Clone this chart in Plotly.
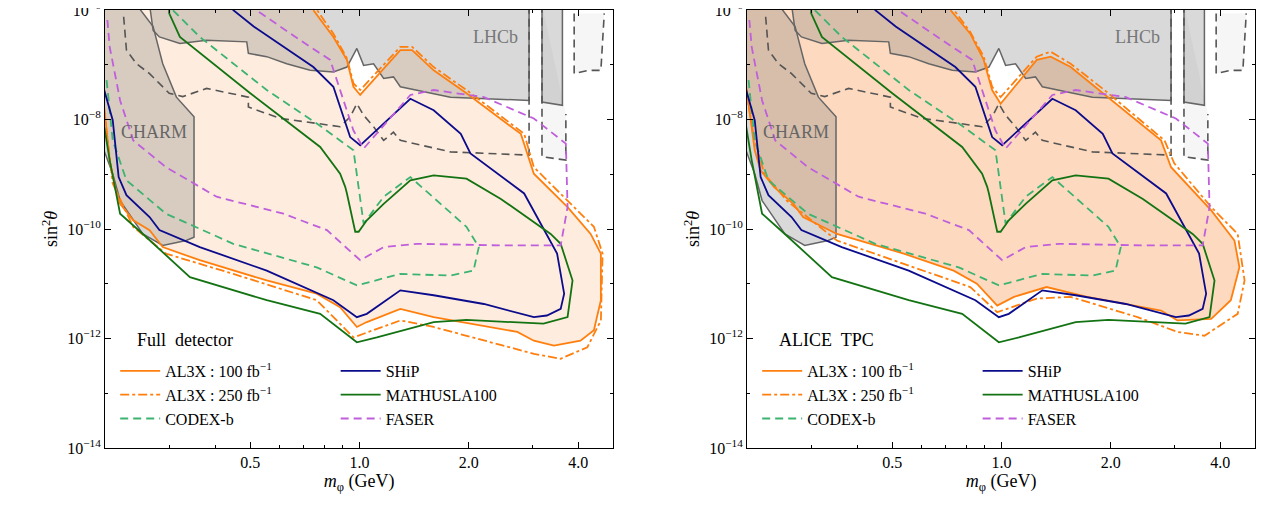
import math
import plotly.graph_objects as go

# curves: mass in GeV, log10(sin^2 theta)
al3x100_full_m = [0.19, 0.198, 0.205, 0.212, 0.219, 0.238, 0.264, 0.287, 0.363, 0.555, 0.762, 0.884, 0.983, 1.047, 1.295, 1.60, 2.72, 3.02, 3.43, 4.06, 4.42, 4.62, 4.62, 4.33, 3.74, 3.02, 2.78, 1.97, 1.60, 1.395, 1.295, 1.004, 0.962, 0.923, 0.847, 0.746, 0.716]
al3x100_full_e = [-5.8, -7.77, -8.74, -9.23, -9.54, -9.84, -10.02, -10.33, -10.57, -10.94, -11.18, -11.43, -11.79, -11.70, -11.46, -11.61, -11.88, -12.04, -12.13, -12.04, -11.85, -11.30, -10.45, -10.09, -9.60, -8.99, -8.26, -7.52, -7.10, -6.73, -6.73, -7.55, -7.40, -6.91, -6.49, -6.0, -5.8]

al3x250_full_m = [0.198, 0.209, 0.238, 0.293, 0.449, 0.762, 0.962, 1.295, 1.60, 3.02, 3.58, 4.24, 4.62, 4.67, 4.42, 3.74, 3.02, 2.84, 1.97, 1.60, 1.395, 1.295, 1.004, 0.962, 0.923, 0.847, 0.762, 0.731]
al3x250_full_e = [-7.83, -9.17, -9.96, -10.45, -10.82, -11.30, -11.98, -11.67, -11.79, -12.28, -12.37, -12.16, -11.67, -10.45, -9.96, -9.48, -8.87, -8.26, -7.46, -7.04, -6.67, -6.67, -7.46, -7.34, -6.88, -6.43, -6.0, -5.82]

al3x100_tpc_m = [0.19, 0.198, 0.202, 0.209, 0.217, 0.236, 0.267, 0.284, 0.352, 0.538, 0.738, 0.855, 0.973, 1.082, 1.33, 1.72, 2.75, 3.05, 3.78, 4.28, 4.52, 4.38, 3.78, 2.93, 2.75, 1.92, 1.55, 1.366, 1.25, 0.994, 0.942, 0.893, 0.82, 0.724, 0.69]
al3x100_tpc_e = [-5.8, -7.40, -7.83, -8.56, -8.93, -9.23, -9.54, -9.78, -10.09, -10.45, -10.76, -11.0, -11.40, -11.24, -11.06, -11.24, -11.49, -11.67, -11.64, -11.30, -10.70, -10.21, -9.66, -8.87, -8.38, -7.55, -7.04, -6.85, -6.91, -7.71, -7.46, -6.91, -6.43, -6.0, -5.82]

al3x250_tpc_m = [0.198, 0.207, 0.222, 0.256, 0.352, 0.538, 0.82, 0.973, 1.25, 1.55, 2.37, 3.05, 3.62, 4.47, 4.67, 4.47, 3.78, 2.99, 2.81, 1.92, 1.55, 1.366, 1.25, 0.994, 0.942, 0.893, 0.82, 0.74, 0.705]
al3x250_tpc_e = [-7.46, -8.26, -8.99, -9.48, -10.21, -10.64, -11.06, -11.52, -11.27, -11.24, -11.61, -11.88, -11.95, -11.55, -10.94, -10.09, -9.60, -8.80, -8.38, -7.46, -6.98, -6.76, -6.85, -7.59, -7.40, -6.85, -6.40, -6.0, -5.82]

ship_m = [0.198, 0.209, 0.217, 0.228, 0.264, 0.281, 0.363, 0.555, 0.847, 0.983, 1.047, 1.295, 1.60, 2.20, 3.02, 3.28, 3.58, 3.66, 3.50, 2.84, 2.02, 1.90, 1.60, 1.38, 1.004, 0.942, 0.847, 0.746, 0.511, 0.449, 0.43]
ship_e = [-7.46, -8.01, -9.05, -9.38, -9.78, -10.02, -10.33, -10.76, -11.30, -11.61, -11.55, -11.12, -11.21, -11.37, -11.61, -11.58, -11.46, -11.18, -10.45, -9.35, -8.62, -8.26, -7.83, -7.62, -8.47, -8.32, -7.40, -7.04, -6.30, -6.0, -5.82]

mathusla_m = [0.198, 0.205, 0.219, 0.253, 0.341, 0.555, 0.779, 0.983, 1.116, 1.60, 1.97, 3.21, 3.74, 3.86, 3.58, 3.36, 2.45, 1.97, 1.60, 1.38, 1.165, 1.047, 0.994, 0.973, 0.923, 0.913, 0.884, 0.779, 0.5, 0.32, 0.299, 0.299]
mathusla_e = [-8.13, -8.74, -9.72, -10.09, -10.88, -11.30, -11.55, -12.07, -11.98, -11.70, -11.66, -11.73, -11.61, -10.94, -10.27, -10.09, -9.45, -9.08, -9.02, -9.11, -9.54, -9.84, -10.05, -10.05, -9.35, -9.23, -8.99, -8.50, -7.52, -6.49, -6.06, -5.9]

codex_m = [0.201, 0.209, 0.228, 0.293, 0.449, 0.762, 0.983, 1.295, 1.78, 2.06, 2.13, 1.97, 1.38, 1.165, 1.026, 0.962, 0.762, 0.555, 0.363, 0.306, 0.299]
codex_e = [-7.28, -8.38, -9.11, -9.72, -10.27, -10.70, -11.03, -10.82, -10.85, -10.76, -10.33, -9.96, -9.05, -9.41, -9.90, -8.56, -8.07, -7.46, -6.49, -6.0, -5.88]

faser_m = [0.202, 0.205, 0.219, 0.238, 0.293, 0.404, 0.617, 0.813, 1.004, 1.165, 1.44, 2.45, 3.58, 3.74, 3.70, 3.02, 2.20, 1.60, 1.38, 1.026, 0.962, 0.830, 0.686, 0.555, 0.52, 0.5]
faser_e = [-6.18, -6.67, -7.65, -8.38, -8.87, -9.41, -9.72, -10.02, -10.57, -10.33, -10.27, -10.30, -10.30, -9.60, -8.44, -7.98, -7.59, -7.46, -7.55, -8.53, -8.20, -6.91, -6.55, -6.12, -6.0, -5.9]

lhcb_m = [0.264, 0.270, 0.281, 0.320, 0.379, 0.489, 0.494, 0.555, 0.630, 0.731, 0.847, 0.923, 0.983, 1.026, 1.093, 1.165, 1.24, 1.295, 1.78, 2.93, 2.93]
lhcb_e = [-5.9, -6.37, -6.49, -6.61, -6.55, -6.58, -6.79, -6.85, -6.98, -7.10, -7.13, -7.04, -6.70, -7.01, -6.98, -7.25, -7.22, -7.40, -7.59, -7.65, -5.9]
lhcb2_m = [3.18, 3.18, 3.62, 3.62]
lhcb2_e = [-5.9, -7.68, -7.74, -5.9]

charm_m = [0.19, 0.243, 0.270, 0.287, 0.313, 0.350, 0.350, 0.333, 0.287, 0.253, 0.219, 0.209, 0.19]
charm_e = [-5.9, -5.9, -6.30, -6.98, -7.59, -7.95, -10.15, -10.21, -10.30, -10.09, -9.48, -8.99, -8.26]

gray1_m = [0.224, 0.228, 0.243, 0.264, 0.299, 0.326, 0.379, 0.494, 0.494, 0.605, 0.762, 0.884, 0.942, 0.983, 1.026, 1.093, 1.165, 1.24, 1.295, 1.78, 2.93, 2.93]
gray1_e = [-6.12, -6.73, -6.98, -7.16, -7.52, -7.58, -7.43, -7.59, -7.77, -7.98, -8.07, -8.13, -7.95, -7.71, -7.92, -8.13, -8.38, -8.23, -8.38, -8.59, -8.65, -5.9]
gray2_m = [3.18, 3.18, 3.70, 3.70]
gray2_e = [-5.9, -8.68, -8.74, -7.9]
gray3_m = [3.90, 3.90, 4.28, 4.62, 4.72]
gray3_e = [-6.06, -7.16, -7.10, -7.10, -6.06]

x_ticks = [0.5, 1.0, 2.0, 4.0]
x_ticktext = ["0.5", "1.0", "2.0", "4.0"]
x_minor = [0.2, 0.3, 0.4, 0.6, 0.7, 0.8, 0.9, 3.0, 5.0]
y_ticks = [-14, -12, -10, -8, -6]

ORANGE = "#ff7f0e"
BLUE = "#0b0b8c"
GREEN = "#137313"
CODEX = "#3cb371"
FASER = "#bf5fdb"
SERIF = "Liberation Serif"


def pw(e):
    return [10 ** v for v in e]


fig = go.Figure()

panels = [
    ("x", "y", al3x100_full_m, al3x100_full_e, al3x250_full_m, al3x250_full_e, "rgba(253,225,200,0.6)"),
    ("x2", "y2", al3x100_tpc_m, al3x100_tpc_e, al3x250_tpc_m, al3x250_tpc_e, "rgba(252,205,170,0.75)"),
]

for i, (xa, ya, m1, e1, m2, e2, fillc) in enumerate(panels):
    common = dict(xaxis=xa, yaxis=ya)
    fig.add_trace(go.Scatter(x=m1, y=pw(e1), fill="toself", fillcolor=fillc, mode="none",
                             showlegend=False, hoverinfo="skip", **common))
    for gm, ge in [(gray2_m + [3.18], gray2_e + [-5.9]), (gray3_m, gray3_e)]:
        fig.add_trace(go.Scatter(x=gm, y=pw(ge), fill="toself", fillcolor="rgba(240,240,240,0.6)",
                                 mode="none", showlegend=False, hoverinfo="skip", **common))
    for pm, pe in [(lhcb_m, lhcb_e), (lhcb2_m, lhcb2_e), (charm_m, charm_e)]:
        fig.add_trace(go.Scatter(x=pm, y=pw(pe), fill="toself", fillcolor="rgba(120,120,120,0.28)",
                                 mode="lines", line=dict(color="#666666", width=1.5),
                                 showlegend=False, hoverinfo="skip", **common))
    for gm, ge in [(gray1_m, gray1_e), (gray2_m, gray2_e), (gray3_m, gray3_e)]:
        fig.add_trace(go.Scatter(x=gm, y=pw(ge), mode="lines",
                                 line=dict(color="#555555", width=1.6, dash="8px,5px"),
                                 showlegend=False, hoverinfo="skip", **common))
    # two legend columns per panel
    la = "legend" if i == 0 else "legend3"
    lb = "legend2" if i == 0 else "legend4"
    series = [
        ("AL3X : 100 fb<sup>−1</sup>", m1[1:-1], e1[1:-1], ORANGE, "solid", la),
        ("AL3X : 250 fb<sup>−1</sup>", m2, e2, ORANGE, "dashdot", la),
        ("CODEX-b", codex_m, codex_e, CODEX, "8px,5px", la),
        ("SHiP", ship_m, ship_e, BLUE, "solid", lb),
        ("MATHUSLA100", mathusla_m, mathusla_e, GREEN, "solid", lb),
        ("FASER", faser_m, faser_e, FASER, "8px,5px", lb),
    ]
    for name, sm, se, c, d, lg in series:
        fig.add_trace(go.Scatter(x=sm, y=pw(se), mode="lines", name=name, legend=lg,
                                 line=dict(color=c, width=1.8, dash=d), **common))

# the page body adds an 8px margin; domains compensate for it
xdom = [[0.0766, 0.4775], [0.5833, 0.9842]]
ydom = [0.1505, 0.9961]

axis_common = dict(showline=True, linecolor="black", linewidth=1.2, mirror="ticks",
                   ticks="inside", ticklen=6, tickcolor="black", showgrid=False, zeroline=False,
                   ticklabeloverflow="allow", automargin=False,
                   tickfont=dict(family=SERIF, size=16, color="black"))

layout = dict(
    width=1267, height=518, margin=dict(l=0, r=0, t=0, b=0, autoexpand=False),
    plot_bgcolor="white", paper_bgcolor="white",
    font=dict(family=SERIF, size=16, color="black"),
    annotations=[],
)
for i in range(2):
    xa = "xaxis" if i == 0 else "xaxis2"
    ya = "yaxis" if i == 0 else "yaxis2"
    xr = "x" if i == 0 else "x2"
    yr = "y" if i == 0 else "y2"
    layout[xa] = dict(type="log", range=[-0.701, 0.698], domain=xdom[i], anchor=yr,
                      tickvals=x_ticks, ticktext=x_ticktext,
                      minor=dict(tickvals=x_minor, ticks="inside", ticklen=3, tickcolor="black"),
                      title=dict(text="<i>m</i><sub>φ</sub> (GeV)", font=dict(family=SERIF, size=18), standoff=4),
                      **axis_common)
    layout[ya] = dict(type="log", range=[-14.002, -5.998], domain=ydom, anchor=xr,
                      tickvals=[10 ** v for v in y_ticks],
                      ticktext=["10<sup>−%d</sup>" % (-v) for v in y_ticks],
                      minor=dict(tickvals=[10 ** v for v in range(-14, -5)], ticks="inside",
                                 ticklen=3, tickcolor="black"),
                      title=dict(text="sin<sup>2</sup><i>θ</i>", font=dict(family=SERIF, size=18), standoff=4),
                      **axis_common)
    for j, lg in enumerate((["legend", "legend2"] if i == 0 else ["legend3", "legend4"])):
        layout[lg] = dict(x=xdom[i][0] + 0.008 + j * 0.174, y=0.332, xanchor="left", yanchor="top",
                          orientation="v", bgcolor="rgba(0,0,0,0)",
                          font=dict(family=SERIF, size=16), itemwidth=40, tracegroupgap=0)
    layout["annotations"] += [
        dict(text="CHARM", x=math.log10(0.271), y=-8.22, xref=xr, yref=yr,
             showarrow=False, font=dict(family=SERIF, size=18, color="#666666")),
        dict(text="LHCb", x=math.log10(2.37), y=-6.5, xref=xr, yref=yr,
             showarrow=False, font=dict(family=SERIF, size=18, color="#777777")),
        dict(text="Full  detector" if i == 0 else "ALICE  TPC", x=xdom[i][0] + 0.024, y=0.36,
             xref="paper", yref="paper", xanchor="left", yanchor="middle", showarrow=False,
             font=dict(family=SERIF, size=18)),
    ]

fig.update_layout(**layout)
fig.write_html("out.html")
